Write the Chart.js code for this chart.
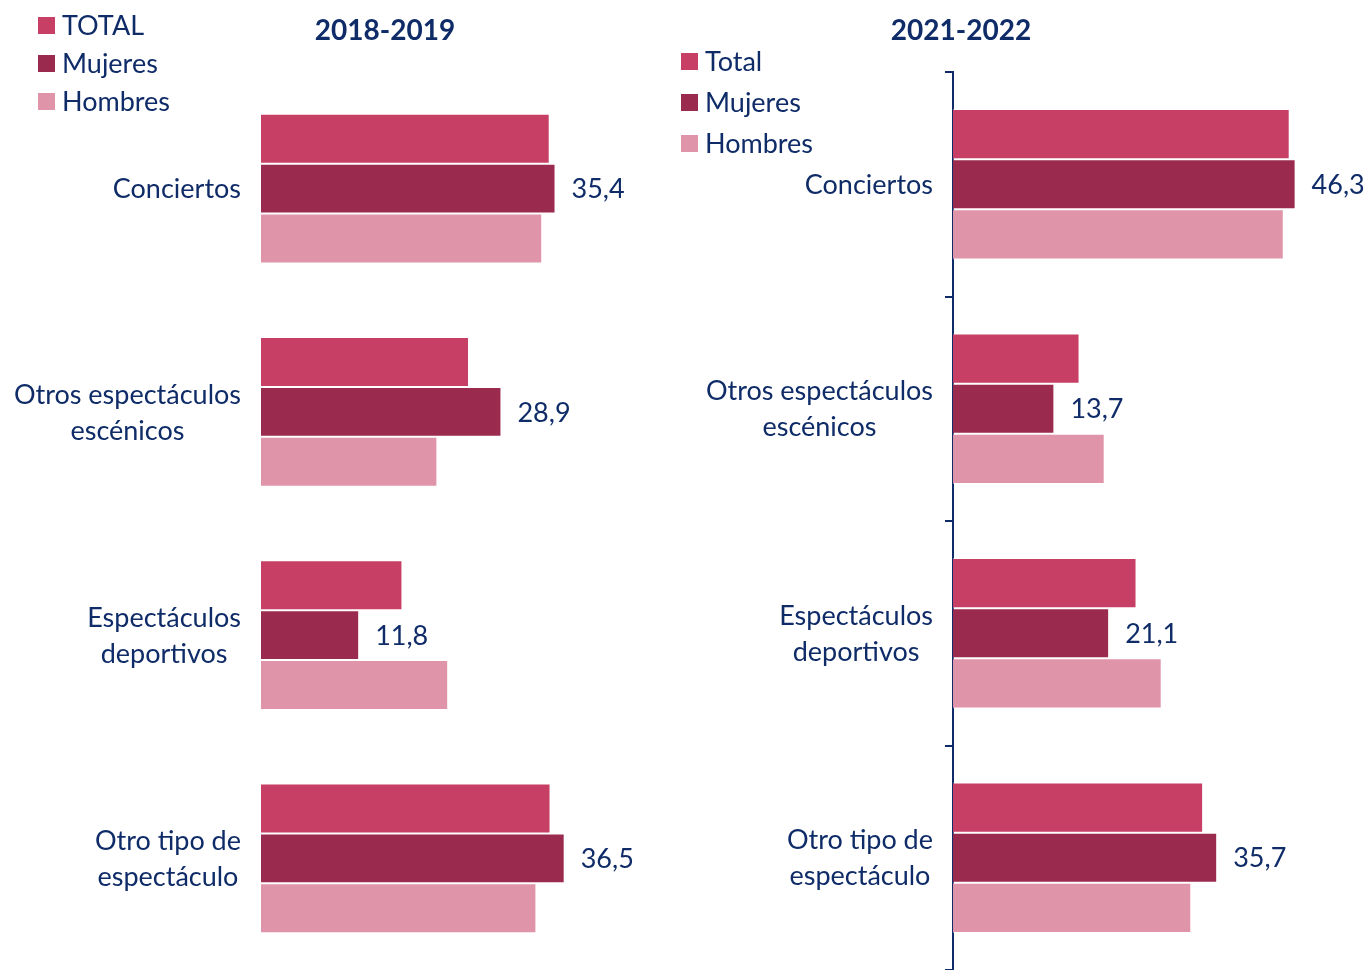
<!DOCTYPE html>
<html>
<head>
<meta charset="utf-8">
<script src="https://cdn.jsdelivr.net/npm/chart.js@4.4.0/dist/chart.umd.min.js"></script>
<style>
  html, body { margin: 0; padding: 0; background: #ffffff; }
  #wrap { position: relative; width: 1365px; height: 970px; overflow: hidden; }
  #left { position: absolute; left: 0; top: 0; }
  #right { position: absolute; left: 680px; top: 0; }
</style>
</head>
<body>
<div id="wrap">
  <canvas id="left" width="680" height="970"></canvas>
  <canvas id="right" width="685" height="970"></canvas>
</div>
<script>
// Categories (multi-line labels)
const categories = [
  ['Conciertos'],
  ['Otros espectáculos', 'escénicos'],
  ['Espectáculos', 'deportivos'],
  ['Otro tipo de', 'espectáculo']
];

// 2018-2019 (%)
const total2018   = [34.7, 25.0, 17.0, 34.8];
const mujeres2018 = [35.4, 28.9, 11.8, 36.5];
const hombres2018 = [33.8, 21.2, 22.5, 33.1];

// 2021-2022 (%)
const total2021   = [45.5, 17.1, 24.8, 33.8];
const mujeres2021 = [46.3, 13.7, 21.1, 35.7];
const hombres2021 = [44.7, 20.5, 28.2, 32.2];

const seriesNames2018 = ['TOTAL', 'Mujeres', 'Hombres'];
const seriesNames2021 = ['Total', 'Mujeres', 'Hombres'];

const COL_TOTAL = '#C83F66';
const COL_MUJ   = '#9B2B4E';
const COL_HOM   = '#E094AA';
const NAVY      = '#0F2C68';
const FONT      = 'Lato, "Noto Sans", sans-serif';

function fmt(v) { return v.toFixed(1).replace('.', ','); }

// Draws title, legend, category labels and value labels for the Mujeres series
const decoPlugin = {
  id: 'deco',
  afterDatasetsDraw(chart, args, opts) {
    const ctx = chart.ctx;
    const yScale = chart.scales.y;
    ctx.save();
    ctx.fillStyle = NAVY;

    // title
    ctx.font = 'bold 28px ' + FONT;
    ctx.textAlign = 'center';
    ctx.textBaseline = 'middle';
    ctx.fillText(opts.title, opts.titleX, opts.titleY);

    // legend
    ctx.font = '27px ' + FONT;
    ctx.textAlign = 'left';
    chart.data.datasets.forEach((ds, i) => {
      const cy = opts.legendY + i * opts.legendGap;
      ctx.fillStyle = ds.backgroundColor;
      ctx.fillRect(opts.legendX, cy - 8, 17, 17);
      ctx.fillStyle = NAVY;
      ctx.fillText(ds.label, opts.legendX + 24, cy + 1);
    });

    // category labels: centred block, right edge near the axis
    ctx.font = '27px ' + FONT;
    ctx.textAlign = 'center';
    const right = chart.chartArea.left - 20;
    chart.data.labels.forEach((lines, i) => {
      const cy = yScale.getPixelForValue(i);
      const maxW = Math.max(...lines.map(l => ctx.measureText(l).width));
      const cx = right - maxW / 2;
      lines.forEach((l, k) => {
        ctx.fillText(l, cx, cy + (k - (lines.length - 1) / 2) * 36 + 1);
      });
    });

    // value labels for the Mujeres bars
    ctx.textAlign = 'left';
    const meta = chart.getDatasetMeta(1);
    meta.data.forEach((el, i) => {
      const v = chart.data.datasets[1].data[i];
      ctx.fillText(fmt(v), el.x + 16, el.y + 1);
    });
    ctx.restore();
  }
};

function makeChart(id, names, total, muj, hom, o) {
  const border = 'rgba(255,255,255,0.45)';
  return new Chart(document.getElementById(id), {
    type: 'bar',
    data: {
      labels: categories,
      datasets: [
        { label: names[0], data: total, backgroundColor: COL_TOTAL, borderColor: border, borderWidth: 1 },
        { label: names[1], data: muj,   backgroundColor: COL_MUJ,   borderColor: border, borderWidth: 1 },
        { label: names[2], data: hom,   backgroundColor: COL_HOM,   borderColor: border, borderWidth: 1 }
      ]
    },
    options: {
      indexAxis: 'y',
      responsive: false,
      animation: false,
      events: [],
      layout: { padding: { top: o.top, bottom: 0, left: 0, right: o.padRight } },
      datasets: { bar: { categoryPercentage: 0.67, barPercentage: 1.0 } },
      scales: {
        x: { display: false, min: 0, max: o.max },
        y: {
          display: true,
          afterFit(scale) { scale.width = o.axisWidth; },
          ticks: { display: false },
          border: { display: o.axisLine, color: NAVY, width: 2 },
          grid: {
            display: o.axisLine,
            drawOnChartArea: false,
            drawTicks: true,
            tickLength: 8,
            color: NAVY,
            lineWidth: 2,
            offset: true
          }
        }
      },
      plugins: {
        legend: { display: false },
        tooltip: { enabled: false },
        deco: o.deco
      }
    },
    plugins: [decoPlugin]
  });
}

makeChart('left', seriesNames2018, total2018, mujeres2018, hombres2018, {
  top: 77, padRight: 3, max: 50, axisWidth: 261, axisLine: false,
  deco: { title: '2018-2019', titleX: 385, titleY: 31, legendX: 38, legendY: 25, legendGap: 38 }
});

makeChart('right', seriesNames2021, total2021, mujeres2021, hombres2021, {
  top: 72, padRight: 5, max: 55, axisWidth: 273, axisLine: true,
  deco: { title: '2021-2022', titleX: 281, titleY: 31, legendX: 1, legendY: 61, legendGap: 41 }
});
</script>
</body>
</html>
